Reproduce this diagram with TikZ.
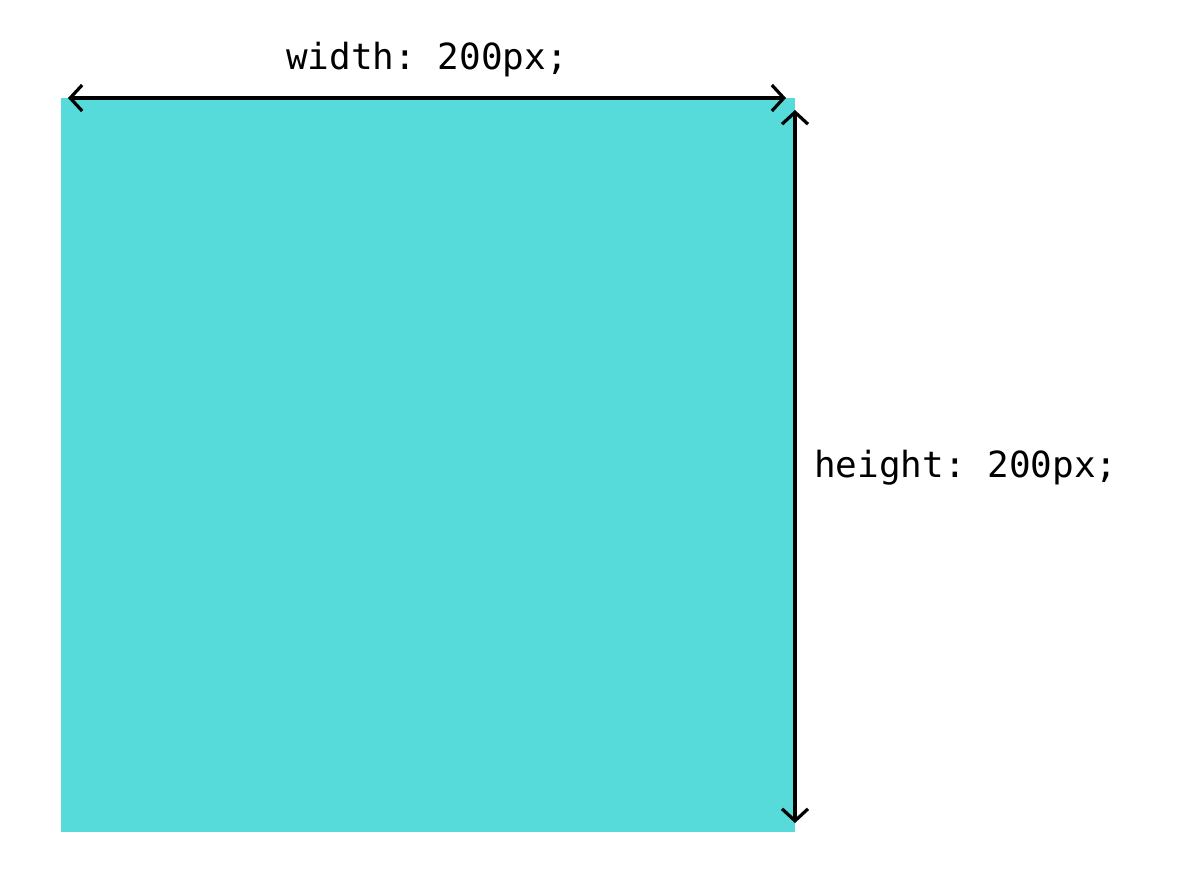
\documentclass[tikz,border=0pt]{standalone}
\usepackage{fontspec}
\setmonofont{DejaVu Sans Mono}
\usetikzlibrary{arrows.meta}
\definecolor{boxcyan}{HTML}{56DBDA}
\tikzset{
  dimarrow/.style={line width=3.2pt, black, {Straight Barb[length=12pt,width=26pt,line width=3.2pt]}-{Straight Barb[length=12pt,width=26pt,line width=3.2pt]}},
  dimlabel/.style={font=\ttfamily\fontsize{36}{42}\selectfont, inner sep=0pt}
}
\begin{document}
\begin{tikzpicture}[x=1pt,y=-1pt]
\useasboundingbox (0,0) rectangle (1183,873);
\fill[boxcyan] (61,98) rectangle (795,832);
\coordinate (wl) at (68,98);
\coordinate (wr) at (786,98);
\coordinate (ht) at (795,110);
\coordinate (hb) at (795,823);
\draw[dimarrow] (wl) -- (wr);
\draw[dimarrow] (ht) -- (hb);
\node[dimlabel, anchor=base] (wlab) at (427,69) {width: 200px;};
\node[dimlabel, anchor=base west] (hlab) at (814,477) {height: 200px;};
\end{tikzpicture}
\end{document}
